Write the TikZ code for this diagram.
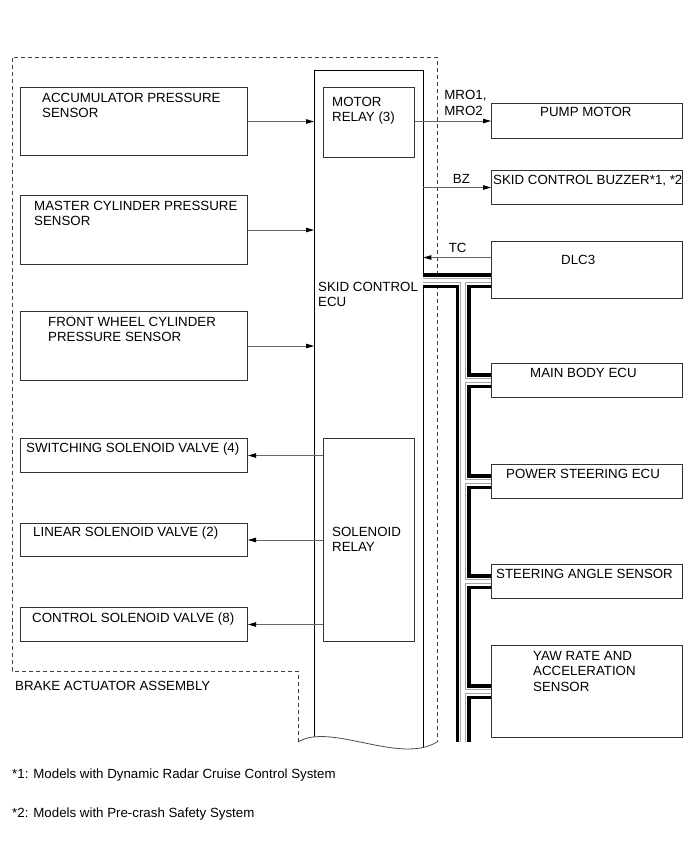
\documentclass[tikz,border=0pt]{standalone}
\usepackage{fontspec}
\setmainfont{Liberation Sans}
\usetikzlibrary{positioning, arrows.meta, calc}
\newcommand\lbl{\fontsize{13.3}{15.5}\selectfont}

\begin{document}
\begin{tikzpicture}[
    x=1pt, y=-1pt,
    box/.style={rectangle, draw=black!80, line width=1pt, anchor=north west, inner sep=0pt, minimum width=#1},
    box/.default=227,
    txt/.style={anchor=north west, inner sep=0pt, align=left, font=\lbl},
    sig/.style={draw=black!60, line width=0.9pt, -{Triangle[length=8pt, width=4.5pt, color=black]}},
    border/.style={draw=black!75, line width=1pt, dash pattern=on 4pt off 3pt},
    wire/.style={draw=black, line width=1pt}
]
\useasboundingbox (0,0) rectangle (691,855);

\node[box, minimum height=68, label={[txt, xshift=22, yshift=-6]north west:ACCUMULATOR PRESSURE\\SENSOR}] (accsens) at (20,87) {};
\node[box, minimum height=69, label={[txt, xshift=14, yshift=-6]north west:MASTER CYLINDER PRESSURE\\SENSOR}] (mcsens) at (20,195) {};
\node[box, minimum height=69, label={[txt, xshift=28, yshift=-6]north west:FRONT WHEEL CYLINDER\\PRESSURE SENSOR}] (fwsens) at (20,311) {};
\node[box, minimum height=34, label={[txt, xshift=6, yshift=-5]north west:SWITCHING SOLENOID VALVE (4)}] (swvalve) at (20,438) {};
\node[box, minimum height=33, label={[txt, xshift=13, yshift=-4]north west:LINEAR SOLENOID VALVE (2)}] (linvalve) at (20,523) {};
\node[box, minimum height=34, label={[txt, xshift=12, yshift=-6]north west:CONTROL SOLENOID VALVE (8)}] (ctlvalve) at (20,607) {};

\node[minimum width=109, minimum height=678, anchor=north west, inner sep=0pt, label={[txt, xshift=4, yshift=-212]north west:SKID CONTROL\\ECU}] (ecu) at (314,70) {};
\node[box=91, minimum height=70, label={[txt, xshift=9, yshift=-10]north west:MOTOR\\RELAY (3)}] (mrelay) at (323,87) {};
\node[box=91, minimum height=203, label={[txt, xshift=9, yshift=-89]north west:SOLENOID\\RELAY}] (srelay) at (323,438) {};

\node[box=191, minimum height=35, label={[txt, xshift=49, yshift=-4]north west:PUMP MOTOR}] (pump) at (491,103) {};
\node[box=191, minimum height=34, label={[txt, xshift=2, yshift=-5]north west:SKID CONTROL BUZZER*1, *2}] (buzzer) at (491,170) {};
\node[box=191, minimum height=57, label={[txt, xshift=70, yshift=-14]north west:DLC3}] (dlc) at (491,241) {};
\node[box=191, minimum height=34, label={[txt, xshift=39, yshift=-5]north west:MAIN BODY ECU}] (mbody) at (491,363) {};
\node[box=191, minimum height=34, label={[txt, xshift=15, yshift=-5]north west:POWER STEERING ECU}] (psteer) at (491,464) {};
\node[box=191, minimum height=34, label={[txt, xshift=5, yshift=-5]north west:STEERING ANGLE SENSOR}] (sangle) at (491,564) {};
\node[box=191, minimum height=92, label={[txt, xshift=42, yshift=-6]north west:YAW RATE AND\\ACCELERATION\\SENSOR}] (yaw) at (491,645) {};

\draw[wire] (ecu.west |- 0,737.4) |- (ecu.north east) -- (ecu.east |- 0,747.7);
\draw[border] (298,742) -- (298,671) -- (12,671) -- (12,57) -- (437,57) -- (437,742);
\draw[draw=black!70, line width=0.8pt] (298,742) .. controls (330,722) and (400,765) .. (437,742);

\draw[sig] (accsens.east) -- (accsens.east -| ecu.west);
\draw[sig] (mcsens.east) -- (mcsens.east -| ecu.west);
\draw[sig] (fwsens.east) -- (fwsens.east -| ecu.west);
\draw[sig] (swvalve.east -| srelay.west) -- (swvalve.east);
\draw[sig] (linvalve.east -| srelay.west) -- (linvalve.east);
\draw[sig] (ctlvalve.east -| srelay.west) -- (ctlvalve.east);

\draw[sig] (mrelay.east |- pump.west) -- node[txt, anchor=south west, pos=0.38, yshift=5] {MRO1,\\MRO2} (pump.west);
\draw[sig] (ecu.east |- buzzer.west) -- node[txt, anchor=south west, pos=0.43, yshift=4] {BZ} (buzzer.west);
\coordinate (tc) at ([yshift=12.5pt]dlc.west);
\draw[sig] (tc) -- node[txt, anchor=south west, pos=0.63, yshift=4] {TC} (tc -| ecu.east);

\coordinate (busend) at (463,742);
\coordinate (busdlc) at ([yshift=-10.5pt]dlc.west);
\foreach \w/\c in {15/black, 8/white, 5.5/black!35, 3.5/white}
  \draw[line width=\w, draw=\c] (busdlc -| ecu.east) -- (busdlc) (busdlc -| busend) -- (busend)
    (mbody.west -| busend) -- (mbody.west) (psteer.west -| busend) -- (psteer.west)
    (sangle.west -| busend) -- (sangle.west) (yaw.west -| busend) -- (yaw.west);

\node[txt, anchor=base west] (brake) at (15,690) {BRAKE ACTUATOR ASSEMBLY};
\node[txt, anchor=base west] (note1) at (12,778) {*1: Models with Dynamic Radar Cruise Control System};
\node[txt, anchor=base west] (note2) at (12,817) {*2: Models with Pre-crash Safety System};
\end{tikzpicture}
\end{document}
